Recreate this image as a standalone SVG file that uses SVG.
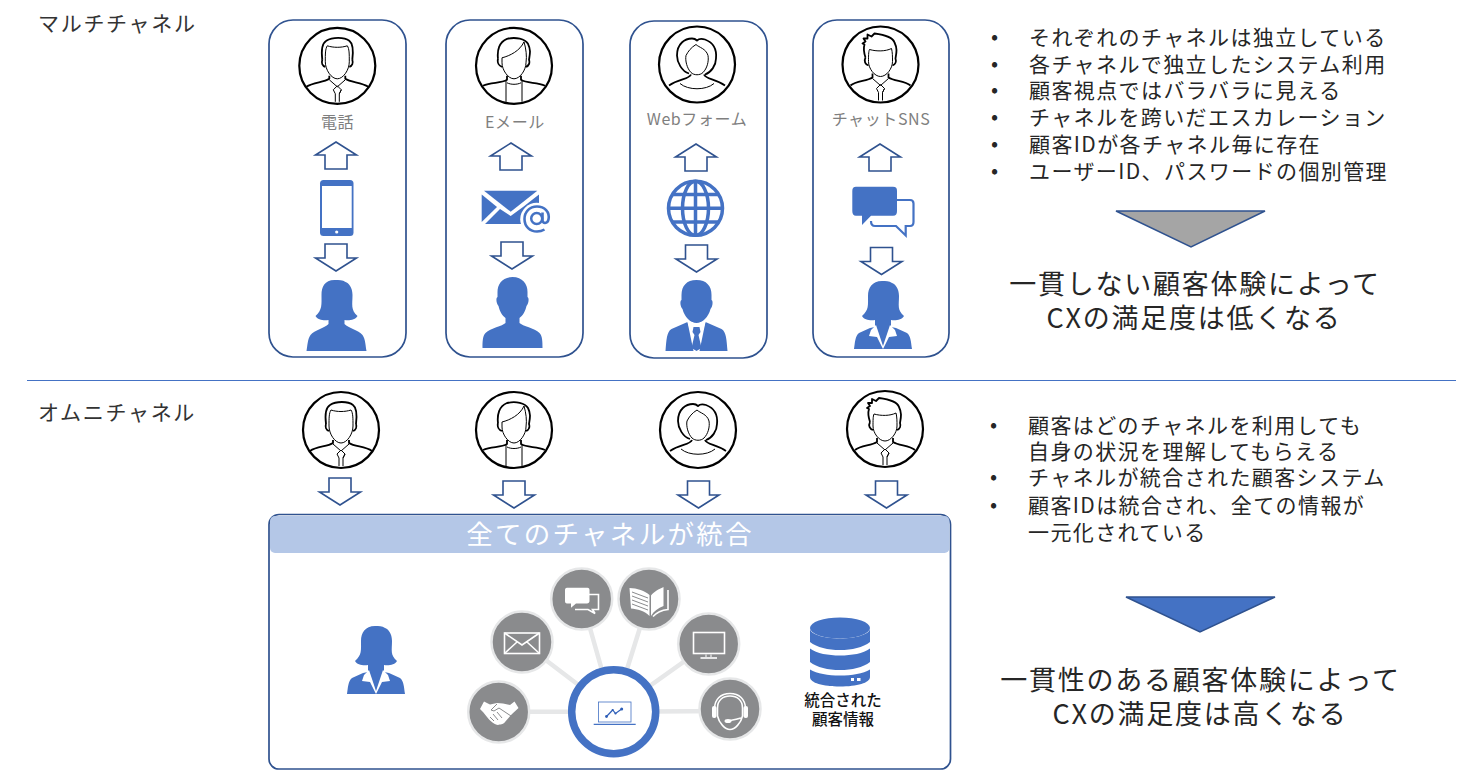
<svg xmlns="http://www.w3.org/2000/svg" xmlns:xlink="http://www.w3.org/1999/xlink" width="1464" height="781" viewBox="0 0 1464 781">
<style>
text{font-family:"Noto Sans CJK JP","Noto Sans",sans-serif;fill:#262626}
.title{font-size:21px;letter-spacing:1.7px;fill:#333}
.li{font-size:21px;letter-spacing:1.4px}
.big{font-size:27px;letter-spacing:1.75px;text-anchor:middle}
.lab{font-size:16px;letter-spacing:.6px;fill:#7f7f7f;text-anchor:middle}
.card{fill:#fff;stroke:#2f528f;stroke-width:1.7}
.arw{fill:#fff;stroke:#2f528f;stroke-width:1.6}
.blue{fill:#4472c4}
.av{fill:#fff;stroke:#000;stroke-width:2.2}
.a1{fill:none;stroke:#000;stroke-width:1.8;stroke-linejoin:round}
.a2{fill:none;stroke:#000;stroke-width:1}
.spoke{stroke:#e6e7e8;stroke-width:4.5;fill:none}
.gc{fill:#8a8b8d;stroke:#e6e7e8;stroke-width:2.5}
.wl{fill:none;stroke:#fff;stroke-width:1.6}
.wf{fill:#fff}
</style>
<defs>
<path id="down" d="M-11,0H11V14H20.500L0,27L-20.500,14H-11Z"/>
<path id="up" d="M-11,27H11V13H20.500L0,0L-20.500,13H-11Z"/>
<g id="man1">
<circle class="av" r="38"/>
<path class="a1" d="M-15,-6C-16,-14-16,-22-11,-25C-5,-29 7,-29 12,-25C16,-22 16,-14 15,-6"/>
<path class="a2" d="M-12,-4C-12,-12-12,-17-10,-20C-4,-18 4,-18 10,-20C12,-17 12,-12 12,-4C12,4 6,13 0,13C-6,13-12,4-12,-4Z"/>
<path class="a1" d="M-15,-6C-16,-3-15,0-12,1M15,-6C16,-3 15,0 12,1"/>
<path class="a1" d="M-8,10V13C-14,17-24,16-31,21M8,10V13C14,17 24,16 31,21"/>
<path class="a2" d="M-8,14L0,21L8,14M-4,24L0,20L4,24L2,28V36M-2,28V36M-4,24L-2,28M4,24L2,28"/>
</g>
<g id="man2">
<circle class="av" r="38"/>
<path class="a1" d="M-16,-7C-17,-15-15,-24-7,-27C2,-29 11,-27 14,-22C17,-16 16,-12 15,-6C16,-3 15,0 12,1M-16,-7C-17,-3-15,0-12,1"/>
<path class="a2" d="M-12,-8C-4,-10 6,-15 10,-24C12,-17 13,-10 12,-3C12,4 6,13 0,13C-6,13-12,4-12,-3Z"/>
<path class="a1" d="M-7,10V14C-13,18-23,16-31,20M7,10V14C13,18 23,16 31,20"/>
<path class="a2" d="M-7,17C-3,19 3,19 7,17M-8,15V36M8,15V36"/>
</g>
<g id="wom">
<circle class="av" r="38"/>
<path class="a1" d="M-8,9C-15,7-20,-2-20,-9C-20,-21-12,-26-5,-26C-2,-26-1,-25 0,-24C2,-26 5,-26 8,-25C16,-22 20,-16 19,-6C19,1 14,8 8,10"/>
<path class="a2" d="M-11,-9C-9,-13-6,-17-1,-20C2,-17 9,-16 11,-9C12,-3 10,4 6,8C3,11-3,11-6,8C-10,4-12,-4-11,-9Z"/>
<path class="a1" d="M-6,10C-8,15-18,14-28,21M7,10C9,15 18,14 28,21"/>
<path class="a2" d="M-17,19C-9,26 9,26 17,19"/>
</g>
<g id="man3">
<circle class="av" r="38"/>
<path class="a1" d="M-15,-7C-17,-13-17,-17-16,-20L-18,-21L-15,-23L-17,-26L-13,-26L-13,-30L-9,-28L-6,-31C2,-30 12,-28 14,-22C17,-16 16,-12 15,-6C16,-3 15,0 12,1M-15,-7C-17,-3-15,0-12,1"/>
<path class="a2" d="M-12,-3C-12,-8-12,-13-11,-15C-4,-13 5,-13 11,-16C12,-12 12,-8 12,-3C12,4 6,12 0,12C-6,12-12,4-12,-3Z"/>
<path class="a1" d="M-8,9V13C-14,17-24,16-30,21M8,9V13C14,17 24,16 30,21"/>
<path class="a2" d="M-8,14L0,21L8,14M-4,24L0,20L4,24L2,28V36M-2,28V36M-4,24L-2,28M4,24L2,28"/>
</g>
<g id="p-wom" class="blue"><path d="M-2,0C-12,0-15,7-15,15C-15,24-14,30-21,36C-19,40-12,41-8,40V44C-12,48-22,50-26,55C-29,59-29,66-30,71H30C29,66 29,59 26,55C22,50 12,48 8,44V40C12,41 19,40 21,36C14,30 16,24 16,15C16,7 12,3 9,2C6,0 3,0-2,0Z"/></g>
<g id="p-man" class="blue"><path d="M0,0C-10,0-15,7-15,15V20C-17,21-16,27-14,29C-13,34-10,39-7,41V46C-10,49-22,51-27,56C-30,59-30,65-30,71H30C30,65 30,59 27,56C22,51 10,49 7,46V41C10,39 13,34 14,29C16,27 17,21 15,20V15C15,7 10,0 0,0Z"/></g>
<g id="p-biz"><path class="blue" d="M0,0C-10,0-15,6-15,15V20C-17,21-16,27-14,29C-12,37-6,43 0,43C6,43 12,37 14,29C16,27 17,21 15,20V15C15,6 10,0 0,0Z"/>
<path class="blue" d="M-9,42L-25,49C-30,52-30,60-31,71H31C30,60 30,52 25,49L9,42L0,71Z"/>
<path class="wf" d="M-9,42L-4,42L0,46L4,42L9,42L3,71H-3Z"/>
<path class="blue" d="M-3,47H3L4,52L2,55L5,68L0,71L-5,68L-2,55L-4,52Z"/></g>
<g id="p-bw"><path class="blue" d="M-1,0C-11,0-15,7-15,15C-15,24-14,29-21,35C-19,39-12,40-8,39V46L-13,47L-24,52C-28,55-28,62-29,68H29C28,62 28,55 24,52L13,47L8,46V39C12,40 19,39 21,35C14,29 16,24 16,15C16,7 12,3 9,2C6,0 3,0-1,0Z"/>
<path class="wf" d="M-7,44L-12,49L-14,55L-6,56L0,68L6,56L14,55L12,49L7,44L0,65Z"/></g>
</defs>

<rect width="1464" height="781" fill="#fff"/>

<g id="titles">
<text class="title" x="38" y="31">マルチチャネル</text>
<text class="title" x="38" y="420">オムニチャネル</text>
</g>
<line id="divider" x1="27" y1="380.5" x2="1456" y2="380.5" stroke="#4472c4" stroke-width="1"/>

<g id="card-phone">
<rect class="card" x="269" y="20" width="137" height="337" rx="24"/>
<use xlink:href="#man1" x="337.3" y="65.8"/>
<text class="lab" x="337.5" y="128">電話</text>
<g id="icon-phone"><rect class="blue" x="320" y="180" width="33.5" height="56" rx="3.5"/><rect fill="#fff" x="322" y="186" width="29.7" height="42"/><circle fill="#fff" cx="336.7" cy="232" r="1.6"/></g>
<use xlink:href="#p-wom" x="336.5" y="280"/>
</g>
<g id="card-email">
<rect class="card" x="446" y="20" width="137" height="337" rx="24"/>
<use xlink:href="#man2" x="514" y="65.8"/>
<text class="lab" x="515" y="128">Eメール</text>
<g id="icon-mail">
<path class="blue" d="M484,190.700H537.300L510.700,211.700Z"/><path class="blue" d="M481.700,194.500L497,207L481.700,222Z"/><path class="blue" d="M485,224L500,209L510.700,216L523,207L539,194.500V224Z"/>
<circle cx="536.700" cy="219.300" r="16.500" fill="#fff"/>
<circle cx="536.700" cy="218.500" r="5.500" fill="none" stroke="#4472c4" stroke-width="2.500"/>
<path d="M542.500,212.500V220C542.500,224 547.500,224 548.500,219.500C550,212 544.500,206.500 537,206.500C529.500,206.500 524.500,212 524.500,219C524.500,226.500 530,231.500 537,231.500C540,231.500 542.500,230.700 544.500,229.500" fill="none" stroke="#4472c4" stroke-width="2.600"/>
</g>
<use xlink:href="#p-man" x="512.500" y="277"/>
</g>
<g id="card-web">
<rect class="card" x="630" y="21" width="137" height="337" rx="24"/>
<use xlink:href="#wom" x="697" y="64.500"/>
<text class="lab" x="697" y="125">Webフォーム</text>
<g id="icon-globe" fill="none" stroke="#4472c4" stroke-width="3.500"><circle cx="695.500" cy="208.300" r="27"/><ellipse cx="695.500" cy="208.300" rx="13" ry="27"/><path d="M695.500,181V235.500M668.500,208.300H722.500M672,194.500H719M672,222H719"/></g>
<use xlink:href="#p-biz" x="696.500" y="280"/>
</g>
<g id="card-chat">
<rect class="card" x="813" y="20" width="136" height="337" rx="24"/>
<use xlink:href="#man3" x="880.500" y="64.500"/>
<text class="lab" x="881" y="125">チャットSNS</text>
<g id="icon-chat">
<path d="M896,200H910C912.500,200 913.500,201 913.500,203.500V222C913.500,224.500 912.500,226 910,226H905.700V235.500L896,226H875C872,226 871,224.500 871,221" fill="none" stroke="#4472c4" stroke-width="2.200"/>
<path class="blue" d="M856,186.700H893C896,186.700 897,188 897,191V211C897,214 896,215.700 893,215.700H871L862,225V215.700H856C853.500,215.700 852.300,214 852.300,211V191C852.300,188 853.500,186.700 856,186.700Z"/>
</g>
<use xlink:href="#p-bw" x="883" y="281"/>
</g>

<g id="list-multi">
<text class="li" x="991" y="44">•</text><text class="li" x="1029" y="44.500">それぞれのチャネルは独立している</text>
<text class="li" x="991" y="71">•</text><text class="li" x="1029" y="71.500">各チャネルで独立したシステム利用</text>
<text class="li" x="991" y="97">•</text><text class="li" x="1029" y="98">顧客視点ではバラバラに見える</text>
<text class="li" x="991" y="124">•</text><text class="li" x="1029" y="124.500">チャネルを跨いだエスカレーション</text>
<text class="li" x="991" y="151">•</text><text class="li" x="1029" y="151.500">顧客IDが各チャネル毎に存在</text>
<text class="li" x="991" y="178">•</text><text class="li" x="1029" y="178.500">ユーザーID、パスワードの個別管理</text>
</g>
<polygon id="tri-gray" points="1116,211 1265,211 1191,247" fill="#a5a5a5" stroke="#2f528f" stroke-width="1.500"/>
<g id="result-multi">
<text class="big" x="1195" y="294">一貫しない顧客体験によって</text>
<text class="big" x="1194" y="328">CXの満足度は低くなる</text>
</g>

<g id="avatars-omni">
<use id="omni-user-1" xlink:href="#man1" x="341" y="430"/>
<use id="omni-user-2" xlink:href="#man2" x="514" y="430"/>
<use id="omni-user-3" xlink:href="#wom" x="698" y="430"/>
<use id="omni-user-4" xlink:href="#man3" x="885" y="429"/>
</g>

<g id="panel">
<rect x="269" y="514.500" width="681.500" height="254.500" rx="10" fill="#fff" stroke="#2f528f" stroke-width="1.700"/>
<rect x="270" y="516" width="679.500" height="37" rx="5" fill="#b4c7e7"/>
<text x="610" y="544" font-size="26.500" letter-spacing="2.300" text-anchor="middle" style="fill:#fff">全てのチャネルが統合</text>
</g>
<g id="agent"><use xlink:href="#p-bw" x="376" y="626"/></g>

<g id="connectors">
<g class="arw">
<use xlink:href="#up" x="336" y="142"/><use xlink:href="#down" x="336" y="244"/>
<use xlink:href="#up" x="511" y="143"/><use xlink:href="#down" x="512" y="242"/>
<use xlink:href="#up" x="696" y="144"/><use xlink:href="#down" x="696.500" y="245"/>
<use xlink:href="#up" x="880" y="144"/><use xlink:href="#down" x="881.500" y="247.500"/>
<use xlink:href="#down" x="340" y="478"/><use xlink:href="#down" x="514" y="481"/>
<use xlink:href="#down" x="698.500" y="481"/><use xlink:href="#down" x="886.500" y="481"/>
</g>
<path class="spoke" d="M613.700,711.700H498.700M613.700,711.700L522,642M613.700,711.700L581.700,599M613.700,711.700L649,599M613.700,711.700L708.700,644M613.700,711.700L730,711"/>
</g>

<g id="hub">
<circle cx="613.700" cy="711.700" r="42" fill="#fff" stroke="#4472c4" stroke-width="7.500"/>
<rect x="598.500" y="702" width="32.500" height="20" fill="none" stroke="#4472c4" stroke-width=".8"/>
<path d="M593.700,724.300H635.700" stroke="#4472c4" stroke-width="1.200"/>
<path d="M606.500,716.500L612.700,710L615.500,713.500L621.700,709" fill="none" stroke="#2f5fb8" stroke-width="1.200"/>
<g fill="#2f5fb8"><circle cx="606.500" cy="716.500" r="1.400"/><circle cx="612.700" cy="710" r="1.100"/><circle cx="615.500" cy="713.500" r="1.100"/><circle cx="621.700" cy="709" r="1.500"/></g>
</g>
<g id="sat-handshake"><circle class="gc" cx="498.700" cy="712" r="30.500"/>
<path class="wf" d="M480,709L484,701.500L490,704.500L497,703L503,703.500L510,705L514.500,701.500L518.500,708L512,714L505,722C503,725 500,724 498,725C495,725 490,721 487,717L483,712Z"/>
<path d="M497,704L491,710L494,711L499,708L511,716M490,717L494,721M493,714L498,720M497,712L502,718" fill="none" stroke="#8a8b8d" stroke-width="1"/>
</g>
<g id="sat-mail"><circle class="gc" cx="522" cy="642" r="30.500"/>
<rect class="wl" x="504.500" y="633" width="35" height="20.500"/><path class="wl" d="M504.500,633L522,645L539.500,633M504.500,653.500L517,642M539.500,653.500L527,642"/></g>
<g id="sat-chat"><circle class="gc" cx="581.700" cy="599" r="30.500"/>
<path d="M589,594.500H598.500V609.500H592.500L595,613.500L588,609.500H575" class="wl" stroke-width="1.200"/>
<path class="wf" d="M567,587.700H587.500C589,587.700 589.500,589 589.500,590V601C589.500,602.500 588.500,603.500 587,603.500H576L571,607.700V603.500H567C565.500,603.500 565,602.500 565,601V590C565,589 565.500,587.700 567,587.700Z"/></g>
<g id="sat-book"><circle class="gc" cx="649" cy="599" r="30.500"/>
<path class="wf" d="M629.500,588C637,588 645,591 649.500,595V616C645,611 637,609 631,608.500Z"/>
<path d="M632,592L648,598M632,596L648,602M632,600L648,606M632,604L648,610" stroke="#8a8b8d" stroke-width="1"/>
<path class="wf" d="M651,595.500C654,591.500 660,588.500 663.500,587V606C658,608 654,611 651,616Z"/>
<path class="wl" d="M653,616.500C657,612 663,610 668,609.500V590" stroke-width="1.300"/></g>
<g id="sat-monitor"><circle class="gc" cx="708.700" cy="644" r="30.500"/>
<rect class="wl" x="693.500" y="632.500" width="31" height="21"/><path d="M706,654.500V657M711,654.500V657" stroke="#fff"/><path d="M700.500,658H717" stroke="#fff" stroke-width="1.600"/></g>
<g id="sat-headset"><circle class="gc" cx="730" cy="709" r="30.500"/>
<path class="wl" d="M714.500,709C714.500,699 721,693.500 730,693.500C739,693.500 745.500,699 745.500,709" stroke-width="1.300"/>
<path class="wl" d="M717.500,708C717.500,700 723,696 730,696C737,696 742.500,700 742.500,708V716C741,723 735,729.500 730,729.500C725,729.500 719,723 717.500,716Z" stroke-width="1"/>
<rect class="wf" x="712" y="706" width="4.500" height="12" rx="2"/><rect class="wf" x="743.500" y="706" width="4.500" height="12" rx="2"/>
<path class="wl" d="M741,718C738,719 733,720 728,721"/><ellipse class="wf" cx="728" cy="721" rx="3.500" ry="2"/></g>

<g id="database">
<path class="blue" d="M810,669.500V677C810,683 823,686.500 840,686.500C857,686.500 870,683 870,677V669.500C863,673.500 852,675.500 840,675.500C828,675.500 817,673.500 810,669.500Z"/>
<path class="blue" d="M810,648.500V662C817,667.500 828,670 840,670C852,670 863,667.500 870,662V648.500C863,653.500 852,655.500 840,655.500C828,655.500 817,653.500 810,648.500Z"/>
<path class="blue" d="M810,628.500V642C817,647.500 828,650 840,650C852,650 863,647.500 870,642V628.500C870,634 857,638.500 840,638.500C823,638.500 810,634 810,628.500Z"/>
<ellipse class="blue" cx="840" cy="628" rx="30" ry="10.500"/>
<rect x="851" y="678" width="3" height="3" fill="#fff"/><rect x="857" y="678" width="3.500" height="3" fill="#fff"/>
<text x="843" y="705.500" font-size="15.500" font-weight="500" text-anchor="middle" style="fill:#111">統合された</text>
<text x="843" y="724.500" font-size="15.500" font-weight="500" text-anchor="middle" style="fill:#111">顧客情報</text>
</g>

<g id="list-omni">
<text class="li" x="990" y="432">•</text><text class="li" x="1028" y="432.500">顧客はどのチャネルを利用しても</text>
<text class="li" x="1028" y="459">自身の状況を理解してもらえる</text>
<text class="li" x="990" y="484">•</text><text class="li" x="1028" y="485">チャネルが統合された顧客システム</text>
<text class="li" x="990" y="512">•</text><text class="li" x="1028" y="512.500">顧客IDは統合され、全ての情報が</text>
<text class="li" x="1028" y="540">一元化されている</text>
</g>
<polygon id="tri-blue" points="1126,597 1275,597 1200,632" fill="#4472c4" stroke="#2f528f" stroke-width="1.500"/>
<g id="result-omni">
<text class="big" x="1200.500" y="690">一貫性のある顧客体験によって</text>
<text class="big" x="1200" y="724">CXの満足度は高くなる</text>
</g>
</svg>
